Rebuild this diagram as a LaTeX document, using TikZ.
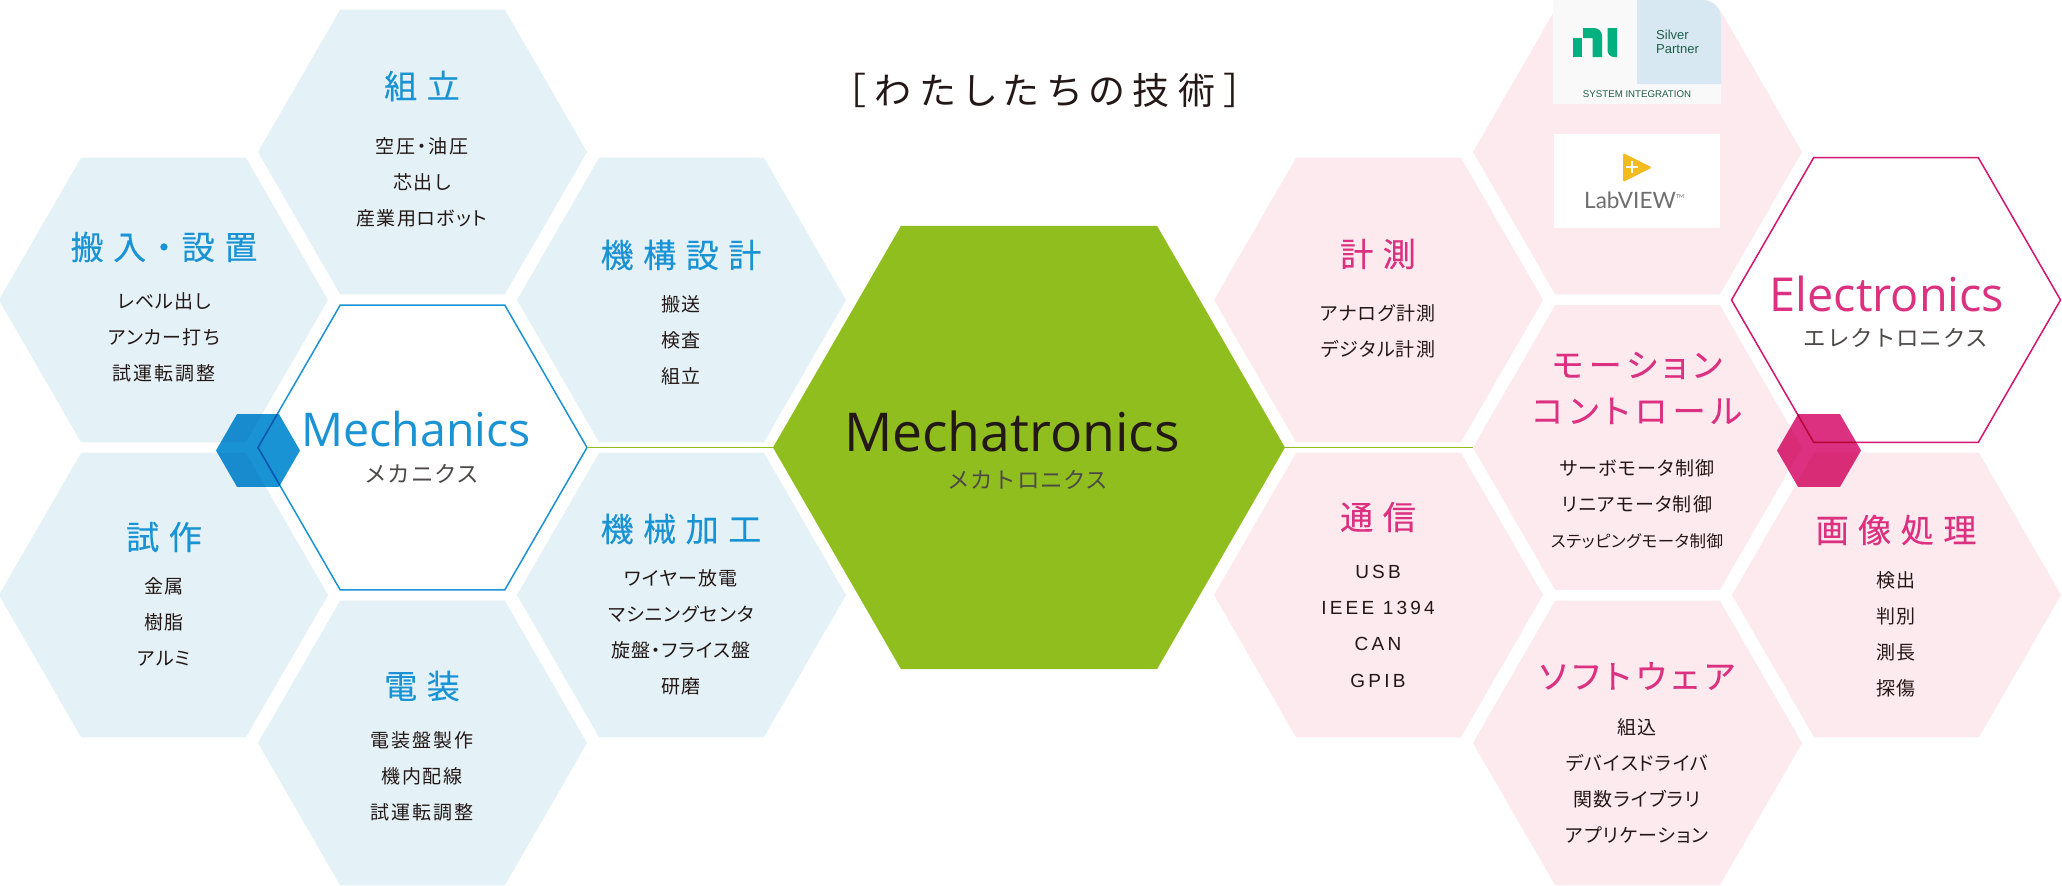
\documentclass[tikz,border=0pt]{standalone}
\usepackage{fontspec}
\usetikzlibrary{shapes.geometric}
\newfontfamily\jp{Noto Sans CJK JP}[RawFeature=+palt,LetterSpace=23]
\newfontfamily\jpt{Noto Sans CJK JP}[RawFeature=+palt,LetterSpace=17,FakeBold=0.3]
\newfontfamily\jpz{Noto Sans CJK JP}[RawFeature=+palt,LetterSpace=29,FakeBold=0.3]
\newfontfamily\jpi{Noto Sans CJK JP}[RawFeature=+palt,LetterSpace=10]
\newfontfamily\jpk{Noto Sans CJK JP}[RawFeature=+palt,LetterSpace=6]
\newfontfamily\jpq{Noto Sans CJK JP}[RawFeature=+palt,LetterSpace=3]
\newfontfamily\jps{Noto Sans CJK JP}[LetterSpace=3]
\newfontfamily\lat{Open Sans}
\newfontfamily\pn{Liberation Sans}
\newfontfamily\pnw{Liberation Sans}[LetterSpace=17]
\newfontfamily\lv{Lato}
\newcommand\kn[1]{{\jpk #1}}
\definecolor{bluel}{HTML}{E4F2F8}
\definecolor{pinkl}{HTML}{FCEAEF}
\definecolor{bluem}{HTML}{1A93D4}
\definecolor{pinkm}{HTML}{DC3080}
\definecolor{pinko}{HTML}{D4146F}
\definecolor{greenm}{HTML}{8FBE1E}
\definecolor{ink}{HTML}{231815}
\definecolor{inkg}{HTML}{4C4948}
\definecolor{nigreen}{HTML}{00B07F}
\definecolor{nidark}{HTML}{1F5C46}
\definecolor{nibg}{HTML}{F9F9F9}
\definecolor{nipanel}{HTML}{D7E8F3}
\definecolor{lvy}{HTML}{F4BB1E}
\definecolor{lvg}{HTML}{6E6E6E}
\tikzset{
 x=1pt,y=1pt,
 hex/.style={regular polygon,regular polygon sides=6,shape border rotate=0,minimum size=#1,inner sep=0pt,outer sep=0pt,draw=none},
 bcell/.style={hex=329,fill=bluel},
 pcell/.style={hex=329,fill=pinkl},
 ttl/.style={inner sep=0pt,font=\jpt\fontsize{33}{46}\selectfont,align=center},
 ttlz/.style={inner sep=0pt,font=\jpz\fontsize{33}{46}\selectfont,align=center},
 itm/.style={inner sep=0pt,anchor=north,yshift=8pt,text=ink,align=center,font=\jpi\fontsize{19}{36.2}\selectfont},
 bt/.style={ttlz,text=bluem},
 pt/.style={ttlz,text=pinkm},
 ptk/.style={ttl,text=pinkm},
 sub/.style={inner sep=0pt,text=inkg,font=\jps\fontsize{22.5}{26}\selectfont},
}
\begin{document}
\begin{tikzpicture}
\useasboundingbox (0,0) rectangle (2062,-886);
\fill[white] (0,0) rectangle (2062,-886);
% blue cells
\node[bcell] (c1) at (422.5,-152) {};
\node[bcell] (c2) at (163.5,-300) {};
\node[bcell] (c3) at (163.5,-595) {};
\node[bcell] (c4) at (422.5,-743) {};
\node[bcell] (c5) at (681.5,-300) {};
\node[bcell] (c6) at (681.5,-595) {};
% pink cells
\node[pcell] (p1) at (1637.5,-152) {};
\node[pcell] (p2) at (1378.5,-300) {};
\node[pcell] (p3) at (1378.5,-595) {};
\node[pcell] (p4) at (1637.5,-447.5) {};
\node[pcell] (p5) at (1637.5,-743) {};
\node[pcell] (p6) at (1896.5,-595) {};
% main
\node[hex=512,fill=greenm] (mtx) at (1029,-447.5) {};
\node[hex=329,draw=bluem,line width=1.5pt] (mec) at (422.5,-447.5) {};
\node[hex=329,draw=pinko,line width=1.5pt] (ele) at (1896,-300) {};
\draw[greenm,line width=1.6pt] (mec.east) -- (mtx.west);
\draw[greenm,line width=1.6pt] (mtx.east) -- (p4.west);
% small hexes
\begin{scope}[blend mode=multiply]
\node[hex=84,fill=bluem] (sb) at (258,-450.5) {};
\node[hex=84,fill=pinkm] (sp) at (1819,-450.5) {};
\end{scope}
% heading
\node[inner sep=0pt,text=ink,font=\jp\fontsize{37}{44}\selectfont] (head) at (1045,-90.5) {［わたしたちの技術］};
% main labels
\node[inner sep=0pt,anchor=base,text=bluem,font=\lat\fontsize{46.5}{56}\selectfont] (mect) at (416,-446) {Mechanics};
\node[sub] (mecs) at (422,-474) {メカニクス};
\node[inner sep=0pt,anchor=base,text=pinkm,font=\lat\fontsize{46.8}{56}\selectfont] (elet) at (1887,-311) {Electronics};
\node[sub] (eles) at (1896,-338) {エレクトロニクス};
\node[inner sep=0pt,anchor=base,text=ink,font=\lat\fontsize{53.5}{70}\selectfont] (mtxt) at (1012,-451) {Mechatronics};
\node[sub] (mtxs) at (1028,-480) {メカトロニクス};
% titles and items
\node[bt] (t1) at (422,-86) {組立};
\node[itm] (i1) at (422,-145) {空圧・油圧\\芯出し\\\kn{産業用ロボット}};
\node[bt] (t2) at (164,-247) {搬入・設置};
\node[itm] (i2) at (164,-300) {\kn{レベル出し}\\\kn{アンカー打ち}\\試運転調整};
\node[bt] (t3) at (164,-537) {試作};
\node[itm] (i3) at (164,-585) {金属\\樹脂\\\kn{アルミ}};
\node[bt] (t4) at (422,-686) {電装};
\node[itm] (i4) at (422,-739) {電装盤製作\\機内配線\\試運転調整};
\node[bt] (t5) at (681,-255) {機構設計};
\node[itm] (i5) at (681,-303) {搬送\\検査\\組立};
\node[bt] (t6) at (681,-529) {機械加工};
\node[itm] (i6) at (681,-577) {\kn{ワイヤー放電}\\\kn{マシニングセンタ}\\\kn{旋盤・フライス盤}\\研磨};
\node[pt] (t7) at (1378,-254) {計測};
\node[itm] (i7) at (1378,-312) {\kn{アナログ計測}\\\kn{デジタル計測}};
\node[pt] (t8) at (1378,-517) {通信};
\node[itm] (i8) at (1378,-573) {\pnw USB\\\pnw IEEE 1394\\\pnw CAN\\\pnw GPIB};
\node[ptk] (t9) at (1637,-388) {モーション\\コントロール};
\node[itm] (i9) at (1637,-467) {\kn{サーボモータ制御}\\\kn{リニアモータ制御}\\{\jpq\fontsize{16.5}{36.2}\selectfont ステッピングモータ制御}};
\node[ptk] (t10) at (1637,-676) {ソフトウェア};
\node[itm] (i10) at (1637,-726) {組込\\\kn{デバイスドライバ}\\\kn{関数ライブラリ}\\\kn{アプリケーション}};
\node[pt] (t11) at (1896,-530) {画像処理};
\node[itm] (i11) at (1896,-579) {検出\\判別\\測長\\探傷};
% NI badge
\fill[nibg] (1553,0) -- (1703,0) arc[start angle=90,end angle=0,radius=18] -- (1721,-104) -- (1553,-104) -- cycle;
\fill[nipanel] (1637,0) -- (1703,0) arc[start angle=90,end angle=0,radius=18] -- (1721,-84) -- (1637,-84) -- cycle;
\fill[nigreen] (1573,-38) rectangle (1581.5,-57);
\fill[nigreen] (1583,-38) -- (1583,-28) -- (1594,-28) arc[start angle=90,end angle=0,radius=8] -- (1602,-57) -- (1592.5,-57) -- (1592.5,-38) -- cycle;
\fill[nigreen] (1607.5,-28) -- (1617,-28) -- (1617,-57) -- (1614,-57) arc[start angle=270,end angle=180,radius=6.5] -- cycle;
\node[inner sep=0pt,anchor=west,text=nidark,font=\pn\fontsize{13}{14}\selectfont] (np) at (1656,-35) {Silver};
\node[inner sep=0pt,anchor=west,text=nidark,font=\pn\fontsize{13}{14}\selectfont] (np2) at (1656,-49) {Partner};
\node[inner sep=0pt,text=nidark,font=\pn\fontsize{9.7}{12}\selectfont] (nsi) at (1637,-94) {SYSTEM INTEGRATION};
% LabVIEW badge
\node[inner sep=0pt,outer sep=0pt,minimum width=166pt,minimum height=94pt,fill=white] (lvb) at (1637,-181) {};
\fill[lvy,rounded corners=1.5pt] (1623,-153) -- (1652,-167.5) -- (1623,-182) -- cycle;
\draw[white,line width=1.2pt] (1632,-161) -- (1632,-173) (1626,-167) -- (1638,-167);
\node[inner sep=0pt,anchor=base west,text=lvg,font=\lv\fontsize{22.5}{28}\selectfont] (lvt) at (1584,-208.5) {LabVIEW\raisebox{10pt}{\fontsize{5.5}{6}\selectfont TM}};
\end{tikzpicture}
\end{document}
